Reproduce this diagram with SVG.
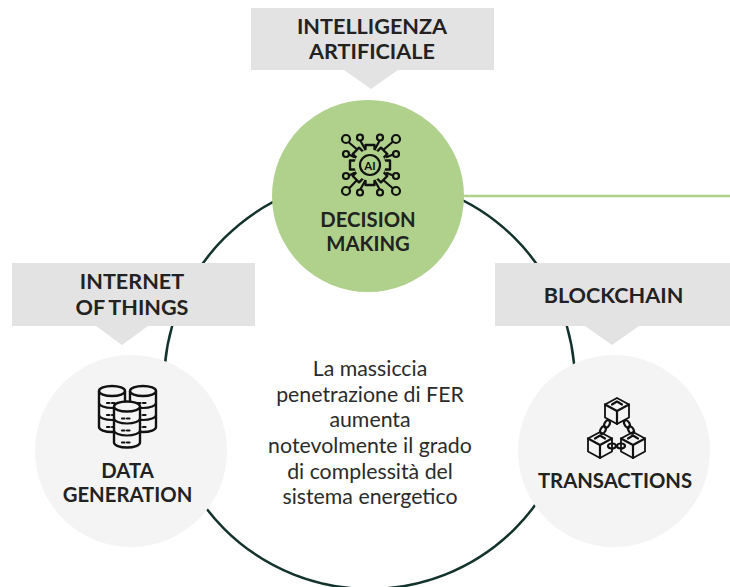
<svg xmlns="http://www.w3.org/2000/svg" width="730" height="587" viewBox="0 0 730 587">
<style>
text{font-family:Lato,"Liberation Sans",sans-serif;text-anchor:middle;fill:#222}
.t{font-weight:700;font-size:21.6px}
.n{font-weight:700;font-size:20.300px}
.b{font-size:21.3px;fill:#2b2b2b}
.lab{fill:#e3e3e3}
.ic{fill:none;stroke:#111;stroke-width:2.200;stroke-linecap:round;stroke-linejoin:round}
.nd{fill:#b0d18b;stroke:#111;stroke-width:2.200}
.ic2{fill:#f4f4f4;stroke:#111;stroke-width:2.400;stroke-linejoin:round}
.cb{fill:#f4f4f4;stroke:#111;stroke-width:1.800;stroke-linejoin:round}
</style>
<defs>
<g id="drum"><path class="ic2" d="M-13-18V18A13 5 0 0 0 13 18V-18"/><ellipse class="ic2" cx="0" cy="-18" rx="13" ry="5"/><path class="ic" d="M-13-6A13 5 0 0 0 13-6M-13 6A13 5 0 0 0 13 6"/><path class="ic" d="M-5-6H5M-5 6H5M-5 18H5" stroke-dasharray="2.500 2.500"/></g>
<g id="cube"><path class="cb" d="M0-13 12-6.500V6.500L0 13-12 6.500V-6.500Z"/><path class="ic" d="M-12-6.500 0 0 12-6.500M0 0V13M-5-6.500 0-9.500 5-6.500" stroke-width="1.500"/></g>
<rect id="tooth" class="ic2" x="-4.500" y="-20" width="9" height="8" style="fill:#b0d18b"/>
<g id="link"><ellipse class="ic" rx="4" ry="2.500" stroke-width="1.800"/></g>
</defs>
<rect width="730" height="587" fill="#fff"/>
<g id="connectors" fill="none">
<circle cx="369.500" cy="383.500" r="205.500" stroke="#12332c" stroke-width="2.500"/>
<path d="M462 196H730" stroke="#b0d18b" stroke-width="2.500"/>
</g>
<g id="node-ai">
<circle cx="368" cy="196" r="96" fill="#b0d18b"/>
<g class="ic">
<path d="M349.500 143 359 151M360 140 365 149M380 140 375 149M392.500 142 382 151M349 154.500 354 157M393 154.500 387 157M349 175.500 354 173M393 175.500 387 173M349.500 188 358 179M360 190 365 181M380 190 375 181M392.500 188 382 179"/>
<circle class="nd" cx="346" cy="139" r="4"/><circle class="nd" cx="360" cy="137.500" r="3"/><circle class="nd" cx="380" cy="137.500" r="3"/><circle class="nd" cx="396" cy="139" r="4"/>
<circle class="nd" cx="346" cy="154" r="3"/><circle class="nd" cx="396" cy="154" r="3"/><circle class="nd" cx="346" cy="176" r="3"/><circle class="nd" cx="396" cy="176" r="3"/>
<circle class="nd" cx="346" cy="191" r="4"/><circle class="nd" cx="360" cy="192.500" r="3"/><circle class="nd" cx="380" cy="192.500" r="3"/><circle class="nd" cx="396" cy="191" r="4"/>
</g>
<g transform="translate(370 165)">
<use href="#tooth"/><use href="#tooth" transform="rotate(45)"/><use href="#tooth" transform="rotate(90)"/><use href="#tooth" transform="rotate(135)"/><use href="#tooth" transform="rotate(180)"/><use href="#tooth" transform="rotate(225)"/><use href="#tooth" transform="rotate(270)"/><use href="#tooth" transform="rotate(315)"/>
<circle r="15.500" fill="#b0d18b"/>
<circle r="10" fill="none" stroke="#111" stroke-width="2.200"/>
</g>
<text x="370" y="169.500" style="font-size:11.500px;font-weight:700;fill:#111">AI</text>
<text class="n" x="368" y="226.500">DECISION</text>
<text class="n" x="368" y="250.500">MAKING</text>
</g>
<g id="label-ai">
<path class="lab" d="M251 8H494V70H398L371 89 344 70H251Z"/>
<text class="t" x="372" y="33.500">INTELLIGENZA</text>
<text class="t" x="372" y="58.500">ARTIFICIALE</text>
</g>
<g id="node-data">
<circle cx="131" cy="451" r="96" fill="#f4f4f4"/>
<use href="#drum" x="112" y="409"/><use href="#drum" x="143" y="409"/><use href="#drum" x="127" y="424.500"/>
<text class="n" x="127.500" y="477.500">DATA</text>
<text class="n" x="127.500" y="501.500">GENERATION</text>
</g>
<g id="label-iot">
<path class="lab" d="M12 263H255V326H148L122 345 96 326H12Z"/>
<text class="t" x="132" y="289">INTERNET</text>
<text class="t" x="132" y="315" style="word-spacing:-1px">OF THINGS</text>
</g>
<g id="node-tx">
<circle cx="614" cy="451" r="96" fill="#f4f4f4"/>
<use href="#cube" x="617" y="411"/><use href="#cube" x="600" y="445"/><use href="#cube" x="633" y="445"/>
<use href="#link" transform="translate(607 424) rotate(-60)"/><use href="#link" transform="translate(603 430) rotate(-60)"/>
<use href="#link" transform="translate(627 424) rotate(60)"/><use href="#link" transform="translate(631 430) rotate(60)"/>
<use href="#link" transform="translate(612 446)"/><use href="#link" transform="translate(621 446)"/>
<text class="n" x="615" y="487.500">TRANSACTIONS</text>
</g>
<g id="label-bc">
<path class="lab" d="M495 263H730V326H639L612 345 585 326H495Z"/>
<text class="t" x="613.500" y="302.500">BLOCKCHAIN</text>
</g>
<g id="center-text">
<text class="b" x="370" y="375.500">La massiccia</text>
<text class="b" x="370" y="401.500">penetrazione di FER</text>
<text class="b" x="370" y="426.500">aumenta</text>
<text class="b" x="370" y="452.500">notevolmente il grado</text>
<text class="b" x="370" y="478.500">di complessità del</text>
<text class="b" x="370" y="503.500">sistema energetico</text>
</g>
</svg>
